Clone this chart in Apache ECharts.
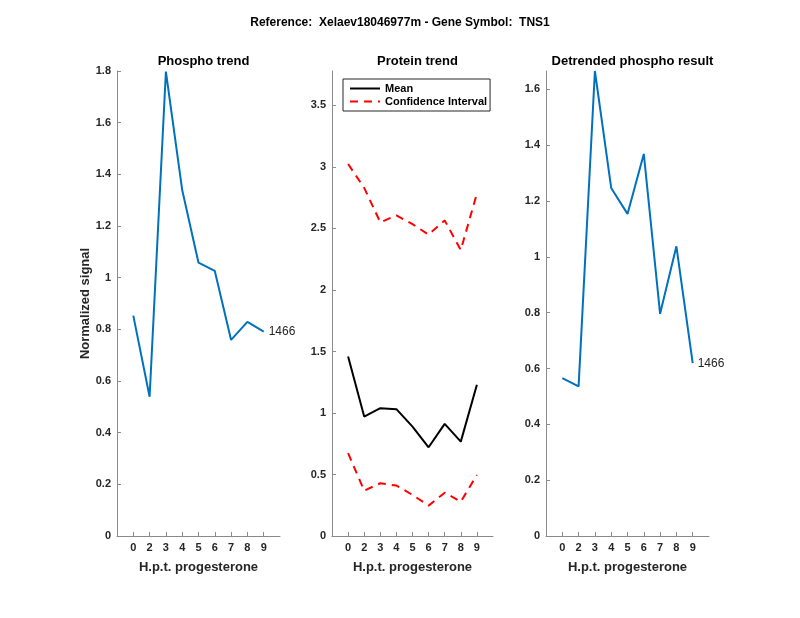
<!DOCTYPE html>
<html>
<head>
<meta charset="utf-8">
<script src="https://cdn.jsdelivr.net/npm/echarts@6/dist/echarts.min.js"></script>
<style>html,body{margin:0;padding:0;background:#fff}#c{width:800px;height:618px}</style>
</head>
<body>
<div id="c"></div>
<script>
// ---- data ----
var categories = ['0', '2', '3', '4', '5', '6', '7', '8', '9'];
var phospho = [0.853, 0.539, 1.798, 1.339, 1.058, 1.026, 0.759, 0.829, 0.791];
var proteinMean = [1.46, 0.971, 1.039, 1.031, 0.889, 0.721, 0.911, 0.767, 1.229];
var proteinUpper = [3.024, 2.83, 2.55, 2.606, 2.535, 2.45, 2.565, 2.325, 2.785];
var proteinLower = [0.673, 0.369, 0.429, 0.41, 0.334, 0.247, 0.352, 0.279, 0.496];
var detrended = [0.566, 0.536, 1.666, 1.247, 1.154, 1.369, 0.796, 1.038, 0.619];
var peptideLabel = '1466';
var mainTitle = 'Reference:  Xelaev18046977m - Gene Symbol:  TNS1';
var panelTitles = ['Phospho trend', 'Protein trend', 'Detrended phospho result'];
var xName = 'H.p.t. progesterone';
var yName = 'Normalized signal';

// padded category axis (empty slot at each end)
var axisCats = [''].concat(categories, ['']);
function pad(arr) { return [null].concat(arr, [null]); }

var font = 'Liberation Sans, Arial, Helvetica, sans-serif';
var axisColor = '#8a8a8a';
var textColor = '#262626';

var grids = [
  { left: 117, width: 163, top: 71, bottom: 82 },
  { left: 332, width: 161, top: 71, bottom: 82 },
  { left: 546, width: 163, top: 71, bottom: 82 }
];

function xAxis(i) {
  return {
    gridIndex: i, type: 'category', data: axisCats, boundaryGap: false,
    axisLine: { lineStyle: { color: axisColor, width: 1 } },
    axisTick: { inside: true, length: 4, lineStyle: { color: axisColor },
      interval: function (idx) { return idx > 0 && idx < axisCats.length - 1; } },
    axisLabel: { interval: 0, color: textColor, fontWeight: 'bold', fontSize: 11, fontFamily: font, margin: 6 },
    splitLine: { show: false },
    name: xName, nameLocation: 'middle', nameGap: 25,
    nameTextStyle: { color: textColor, fontWeight: 'bold', fontSize: 13, fontFamily: font }
  };
}
function yAxis(i, max, interval, name) {
  var o = {
    gridIndex: i, type: 'value', min: 0, max: max, interval: interval,
    axisLine: { show: true, lineStyle: { color: axisColor, width: 1 } },
    axisTick: { show: true, inside: true, length: 4, lineStyle: { color: axisColor } },
    axisLabel: { color: textColor, fontWeight: 'bold', fontSize: 11, fontFamily: font, margin: 6,
      showMaxLabel: Math.abs(max / interval - Math.round(max / interval)) < 1e-6 },
    splitLine: { show: false }
  };
  if (name) {
    o.name = name; o.nameLocation = 'middle'; o.nameGap = 25;
    o.nameTextStyle = { color: textColor, fontWeight: 'bold', fontSize: 13, fontFamily: font };
  }
  return o;
}
function endLabel() {
  return {
    show: true, distance: 5, color: textColor, fontSize: 12, fontFamily: font,
    formatter: function () { return peptideLabel; }
  };
}

var titles = [{ text: mainTitle, left: 'center', top: 12,
  textStyle: { color: '#000', fontSize: 12, fontWeight: 'bold', fontFamily: font } }];
panelTitles.forEach(function (t, i) {
  titles.push({ text: t, left: grids[i].left + grids[i].width / 2, textAlign: 'center', top: 50,
    textStyle: { color: '#000', fontSize: 13, fontWeight: 'bold', fontFamily: font } });
});

var option = {
  animation: false,
  backgroundColor: '#fff',
  title: titles,
  grid: grids,
  xAxis: [xAxis(0), xAxis(1), xAxis(2)],
  yAxis: [yAxis(0, 1.8, 0.2, yName), yAxis(1, 3.78, 0.5), yAxis(2, 1.666, 0.2)],
  legend: {
    data: ['Mean', 'Confidence Interval'], orient: 'vertical', left: 343, top: 79,
    borderColor: textColor, borderWidth: 1, padding: [4, 3, 4, 6], itemGap: 2,
    itemWidth: 30, itemHeight: 12,
    itemStyle: { opacity: 0 },
    textStyle: { color: '#000', fontWeight: 'bold', fontSize: 11, fontFamily: font }
  },
  series: [
    { type: 'line', xAxisIndex: 0, yAxisIndex: 0, data: pad(phospho), symbol: 'none',
      lineStyle: { color: '#0072BD', width: 2 }, itemStyle: { color: '#0072BD' }, endLabel: endLabel() },
    { name: 'Mean', type: 'line', xAxisIndex: 1, yAxisIndex: 1, data: pad(proteinMean), symbol: 'none',
      lineStyle: { color: '#000', width: 2 }, itemStyle: { color: '#000' } },
    { name: 'Confidence Interval', type: 'line', xAxisIndex: 1, yAxisIndex: 1, data: pad(proteinUpper), symbol: 'none',
      lineStyle: { color: '#ff0000', width: 2, type: [8, 6] }, itemStyle: { color: '#ff0000' } },
    { name: 'Confidence Interval', type: 'line', xAxisIndex: 1, yAxisIndex: 1, data: pad(proteinLower), symbol: 'none',
      lineStyle: { color: '#ff0000', width: 2, type: [8, 6] }, itemStyle: { color: '#ff0000' } },
    { type: 'line', xAxisIndex: 2, yAxisIndex: 2, data: pad(detrended), symbol: 'none',
      lineStyle: { color: '#0072BD', width: 2 }, itemStyle: { color: '#0072BD' }, endLabel: endLabel() }
  ]
};
var chart = echarts.init(document.getElementById('c'), null, { renderer: 'canvas' });
chart.setOption(option);
</script>
</body>
</html>
